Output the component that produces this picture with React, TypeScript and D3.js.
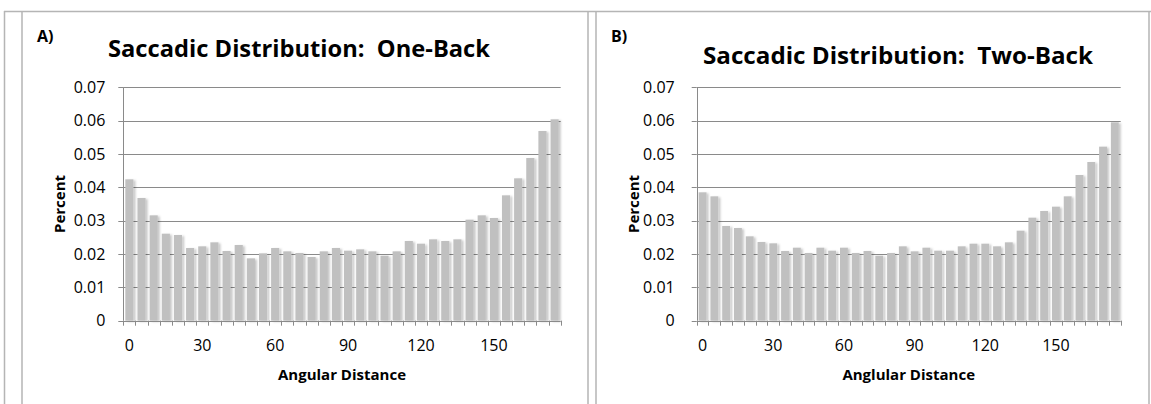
import React from "react";
import * as d3 from "d3";

const angles: number[] = [0,5,10,15,20,25,30,35,40,45,50,55,60,65,70,75,80,85,90,95,100,105,110,115,120,125,130,135,140,145,150,155,160,165,170,175];
const tickAngles: number[] = [0, 30, 60, 90, 120, 150];
const yTicks: number[] = [0, 0.01, 0.02, 0.03, 0.04, 0.05, 0.06, 0.07];

const oneBack: number[] = [
  0.0424, 0.0368, 0.0316, 0.0261, 0.0257, 0.0218, 0.0223, 0.0235, 0.0209, 0.0227,
  0.0187, 0.0202, 0.0218, 0.0208, 0.0203, 0.0191, 0.0208, 0.0218, 0.021, 0.0214,
  0.0208, 0.0195, 0.0208, 0.0239, 0.0231, 0.0244, 0.0239, 0.0244, 0.0303, 0.0316,
  0.0308, 0.0376, 0.0427, 0.0488, 0.0569, 0.0604,
];
const twoBack: number[] = [
  0.0385, 0.0373, 0.0284, 0.0278, 0.0253, 0.0236, 0.0232, 0.0209, 0.0219, 0.0203,
  0.0219, 0.021, 0.0219, 0.0203, 0.0209, 0.0195, 0.0203, 0.0223, 0.0208, 0.0219,
  0.021, 0.021, 0.0223, 0.0231, 0.0231, 0.0223, 0.0235, 0.027, 0.0309, 0.0329,
  0.0342, 0.0373, 0.0437, 0.0476, 0.0522, 0.0595,
];

const FONT = "'Open Sans', sans-serif";
const GRID = "#8a8a8a";
const BAR = "#c0c0c0";

type PanelProps = {
  id: string;
  letter: string;
  letterX: number;
  title: string;
  titleX: number;
  titleY: number;
  titleSize: number;
  titleLen: number;
  values: number[];
  xLabel: string;
  left: number;
  right: number;
  labelGap: number;
  percentX: number;
};

function Panel(p: PanelProps) {
  const top = 87.3;
  const bottom = 320.7;
  const y = d3.scaleLinear().domain([0, 0.07]).range([bottom, top]);
  const x = d3
    .scaleBand<number>()
    .domain(angles)
    .range([p.left, p.right])
    .paddingInner(0.33)
    .paddingOuter(0.165);
  const step = x.step();
  const boundaries = d3.range(angles.length + 1).map((i) => p.left + i * step);
  return (
    <g>
      <text x={p.letterX} y={41.5} fontFamily={FONT} fontWeight={700} fontSize={16} fill="#000">
        {p.letter}
      </text>
      <text
        x={p.titleX}
        y={p.titleY}
        fontFamily={FONT}
        fontWeight={700}
        fontSize={p.titleSize}
        fill="#000"
        textLength={p.titleLen}
        lengthAdjust="spacingAndGlyphs"
        style={{ whiteSpace: "pre" }}
      >
        {p.title}
      </text>
      {yTicks.map((t) => (
        <g key={t}>
          {t > 0 && (
            <line x1={p.left} x2={p.right} y1={Math.round(y(t)) + 0.5} y2={Math.round(y(t)) + 0.5} stroke={GRID} strokeWidth={1} />
          )}
          <line x1={p.left - 5} x2={p.left} y1={Math.round(y(t)) + 0.5} y2={Math.round(y(t)) + 0.5} stroke={GRID} strokeWidth={1} />
          <text
            x={p.left - p.labelGap}
            y={y(t)}
            dy="0.36em"
            textAnchor="end"
            fontFamily={FONT}
            fontSize={16}
            fill="#000"
          >
            {t === 0 ? "0" : d3.format(".2f")(t)}
          </text>
        </g>
      ))}
      <g filter={`url(#shadow-${p.id})`}>
        {p.values.map((v, i) => (
          <rect
            key={i}
            x={x(angles[i])}
            y={y(v)}
            width={x.bandwidth()}
            height={bottom - y(v)}
            fill={BAR}
          />
        ))}
      </g>
      <line x1={Math.round(p.left) + 0.5} x2={Math.round(p.left) + 0.5} y1={top} y2={bottom} stroke={GRID} strokeWidth={1} />
      <line x1={p.left} x2={p.right} y1={Math.round(bottom) + 0.5} y2={Math.round(bottom) + 0.5} stroke={GRID} strokeWidth={1} />
      {boundaries.map((bx, i) => (
        <line key={i} x1={Math.round(bx) + 0.5} x2={Math.round(bx) + 0.5} y1={bottom} y2={bottom + 5} stroke={GRID} strokeWidth={1} />
      ))}
      {tickAngles.map((a) => (
        <text
          key={a}
          x={(x(a) as number) + x.bandwidth() / 2}
          y={351}
          textAnchor="middle"
          fontFamily={FONT}
          fontSize={16}
          fill="#000"
        >
          {a}
        </text>
      ))}
      <text
        x={(p.left + p.right) / 2}
        y={380}
        textAnchor="middle"
        fontFamily={FONT}
        fontWeight={700}
        fontSize={15}
        fill="#000"
      >
        {p.xLabel}
      </text>
      <text
        transform={`translate(${p.percentX},${(top + bottom) / 2}) rotate(-90)`}
        textAnchor="middle"
        fontFamily={FONT}
        fontWeight={700}
        fontSize={15}
        fill="#000"
      >
        Percent
      </text>
    </g>
  );
}

export default function App() {
  return (
    <svg
      width={1151}
      height={404}
      style={{ position: "absolute", left: 0, top: 0, background: "#fff" }}
    >
      <defs>
        {["A", "B"].map((id) => (
          <filter key={id} id={`shadow-${id}`} x="-10%" y="-10%" width="120%" height="120%">
            <feDropShadow dx={2} dy={1} stdDeviation={1} floodColor="#000" floodOpacity={0.22} />
          </filter>
        ))}
      </defs>
      <rect x={0} y={0} width={1151} height={404} fill="#fff" />
      <line x1={4} x2={1151} y1={11.5} y2={11.5} stroke="#b5b5b5" strokeWidth={1.5} />
      <line x1={4.5} x2={4.5} y1={11} y2={404} stroke="#b5b5b5" strokeWidth={1.5} />
      <line x1={22} x2={22} y1={12} y2={404} stroke="#b5b5b5" strokeWidth={1.5} />
      <line x1={588} x2={588} y1={12} y2={404} stroke="#b5b5b5" strokeWidth={1.5} />
      <line x1={596} x2={596} y1={12} y2={404} stroke="#b5b5b5" strokeWidth={1.5} />
      <line x1={1149} x2={1149} y1={12} y2={404} stroke="#b5b5b5" strokeWidth={1.5} />
      <Panel
        id="A"
        letter="A)"
        letterX={37}
        title="Saccadic Distribution:  One-Back"
        titleX={108}
        titleY={57}
        titleSize={23}
        titleLen={382}
        values={oneBack}
        xLabel="Angular Distance"
        left={123.3}
        right={560.7}
        labelGap={18}
        percentX={65}
      />
      <Panel
        id="B"
        letter="B)"
        letterX={611}
        title="Saccadic Distribution:  Two-Back"
        titleX={703}
        titleY={64}
        titleSize={24}
        titleLen={390}
        values={twoBack}
        xLabel="Anglular Distance"
        left={696.7}
        right={1120.7}
        labelGap={22}
        percentX={639}
      />
    </svg>
  );
}
